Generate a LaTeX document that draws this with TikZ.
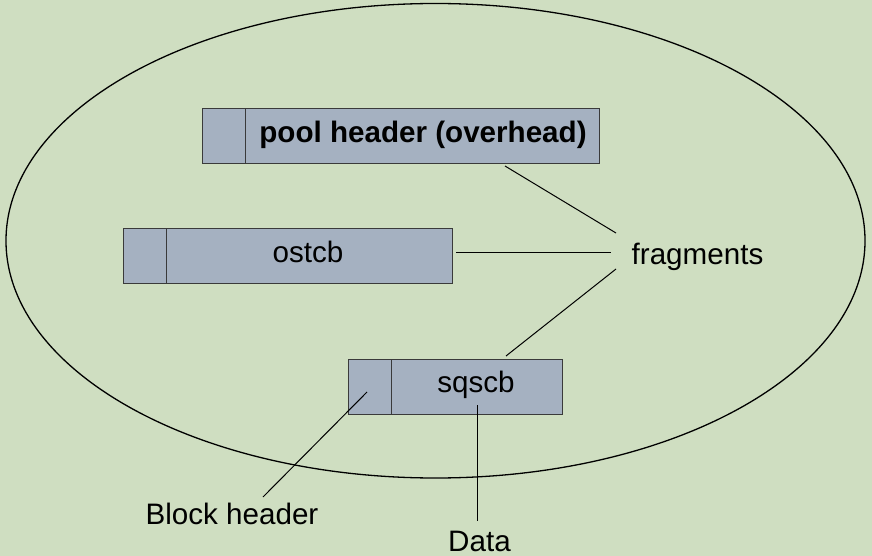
\documentclass[tikz,border=0pt]{standalone}
\usepackage{fontspec}
\setmainfont{Liberation Sans}
\definecolor{bg}{HTML}{CFDEC1}
\definecolor{boxfill}{HTML}{A5B1C1}
\definecolor{boxline}{HTML}{3A3A3A}
\tikzset{
  cell/.style={draw=boxline, fill=boxfill, line width=1.2pt, inner sep=0pt, anchor=north west},
  lbl/.style={inner sep=0pt, anchor=base, font=\fontsize{29.6}{34}\selectfont},
  conn/.style={draw=black, line width=1pt}
}
\begin{document}
\begin{tikzpicture}[x=1pt,y=-1pt]
\fill[bg] (0,0) rectangle (872,556);
\useasboundingbox (0,0) rectangle (872,556);
% pool
\draw[black, line width=1.3pt] (435.5,240.75) ellipse [x radius=429.5, y radius=237.25];
% top box
\node[cell, minimum width=43, minimum height=55] (ph) at (202,108) {};
\node[cell, minimum width=354, minimum height=55] (pd) at (245,108) {};
\node[lbl, font=\fontsize{29.6}{34}\selectfont\bfseries] (pt) at (423,143) {pool header (overhead)};
% ostcb box
\node[cell, minimum width=43, minimum height=55] (oh) at (123,228) {};
\node[cell, minimum width=286, minimum height=55] (od) at (166,228) {};
\node[lbl] (ot) at (308,262) {ostcb};
% sqscb box
\node[cell, minimum width=43, minimum height=55] (sh) at (348,359) {};
\node[cell, minimum width=171, minimum height=55] (sd) at (391,359) {};
\node[lbl] (st) at (476,392) {sqscb};
% labels
\node[lbl] (frag) at (697.5,264) {fragments};
\node[lbl] (bh) at (232,524) {Block header};
\node[lbl] (data) at (479.5,551) {Data};
% connector ends
\coordinate (f1) at (616,233);
\coordinate (f2) at (611,252);
\coordinate (f3) at (616,269);
\coordinate (p1) at (505,166);
\coordinate (o1) at (456,252);
\coordinate (s1) at (506,356);
\coordinate (b1) at (367,392);
\coordinate (b2) at (263,497);
\coordinate (d1) at (477,405);
\coordinate (d2) at (477,521);
\draw[conn] (p1) -- (f1);
\draw[conn] (o1) -- (f2);
\draw[conn] (s1) -- (f3);
\draw[conn] (b1) -- (b2);
\draw[conn] (d1) -- (d2);
\end{tikzpicture}
\end{document}
